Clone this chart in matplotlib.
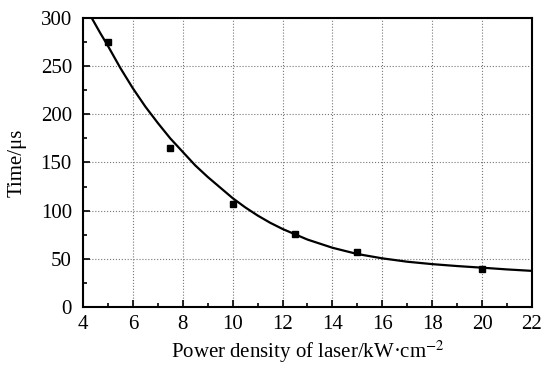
import matplotlib.pyplot as plt
from matplotlib.ticker import MultipleLocator

plt.rcParams["font.family"] = ["Liberation Serif", "DejaVu Serif"]
plt.rcParams["mathtext.fontset"] = "stix"

# measured points
power = [5, 7.5, 10, 12.5, 15, 20]
time_us = [275, 165, 107, 76, 57, 39]

# fitted curve, read along its length
fit_x = [4.35, 4.7, 5, 5.5, 6, 6.5, 7, 7.5, 8, 8.5, 9, 9.5, 10, 10.5, 11,
         11.5, 12, 13, 14, 15, 16, 17, 18, 19, 20, 21, 22]
fit_y = [300, 284, 271, 248, 227, 208, 191, 175, 161, 147, 135, 124, 113,
         103.5, 95, 87.5, 81, 70, 61.5, 55, 50.5, 47, 44.5, 42.5, 40.8, 39, 37.5]

fig = plt.figure(figsize=(5.57, 3.67), dpi=100)
ax = fig.add_axes([0.149, 0.1635, 0.806, 0.7875])

ax.plot(fit_x, fit_y, color="black", linewidth=1.6, zorder=3)
ax.plot(power, time_us, "s", color="black", markersize=5, zorder=4)

ax.set_xlim(4, 22)
ax.set_ylim(0, 300)
ax.xaxis.set_major_locator(MultipleLocator(2))
ax.xaxis.set_minor_locator(MultipleLocator(1))
ax.yaxis.set_major_locator(MultipleLocator(50))
ax.yaxis.set_minor_locator(MultipleLocator(25))
ax.tick_params(which="both", direction="in", top=False, right=False,
               labelsize=15, width=1.2)
ax.tick_params(which="major", length=5)
ax.tick_params(which="minor", length=3)
ax.tick_params(axis="y", pad=8)
ax.tick_params(axis="x", pad=6)
ax.grid(True, which="major", linestyle=":", color="#777777", linewidth=0.8)
for s in ax.spines.values():
    s.set_linewidth(1.5)

ax.set_xlabel("Power density of laser/kW·cm$^{-2}$", fontsize=15, labelpad=3)
ax.set_ylabel("Time/μs", fontsize=15, labelpad=10)

fig.savefig("out.png", dpi=100, facecolor="white")
